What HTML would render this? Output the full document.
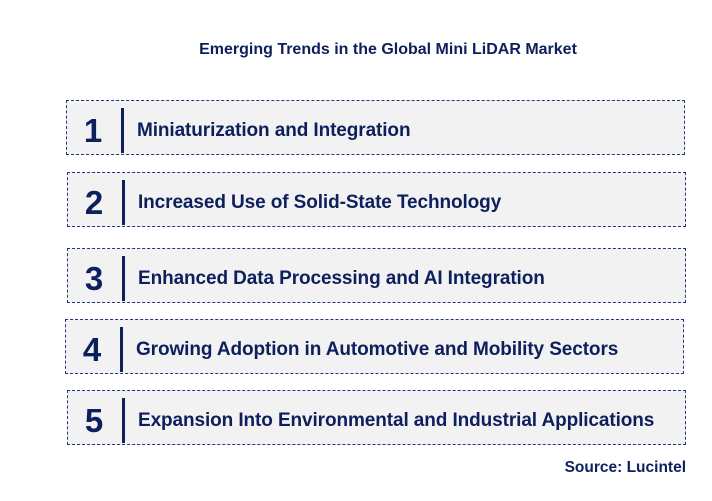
<!DOCTYPE html>
<html><head><meta charset="utf-8"><style>
body{margin:0;width:712px;height:501px;background:#fff;font-family:"Liberation Sans",Arial,sans-serif;position:relative;overflow:hidden}
.t{position:absolute;left:0;width:776px;top:41px;text-align:center;font-size:16px;font-weight:bold;color:#0d1f5c}
.b{position:absolute;height:53px;width:617px;background:#f2f2f2;border:1px dashed #1f3a78;box-sizing:content-box}
.n{position:absolute;left:15px;top:11px;font-size:33px;font-weight:bold;color:#0d1f5c;width:22px;text-align:center}
.bar{position:absolute;left:54px;top:7px;width:3px;height:45px;background:#0d1f5c}
.x{position:absolute;left:70px;top:19px;font-size:19px;font-weight:bold;color:#0d1f5c;letter-spacing:-0.1px;white-space:nowrap}
.s{position:absolute;right:26px;top:459px;font-size:15.5px;font-weight:bold;color:#0d1f5c}
</style></head><body>
<div class="t">Emerging Trends in the Global Mini LiDAR Market</div>
<div class="b" style="left:66px;top:100px"><div class="n">1</div><div class="bar"></div><div class="x">Miniaturization and Integration</div></div>
<div class="b" style="left:67px;top:172px"><div class="n">2</div><div class="bar"></div><div class="x">Increased Use of Solid-State Technology</div></div>
<div class="b" style="left:67px;top:248px"><div class="n">3</div><div class="bar"></div><div class="x">Enhanced Data Processing and AI Integration</div></div>
<div class="b" style="left:65px;top:319px"><div class="n">4</div><div class="bar"></div><div class="x">Growing Adoption in Automotive and Mobility Sectors</div></div>
<div class="b" style="left:67px;top:390px"><div class="n">5</div><div class="bar"></div><div class="x">Expansion Into Environmental and Industrial Applications</div></div>
<div class="s">Source: Lucintel</div>
</body></html>
